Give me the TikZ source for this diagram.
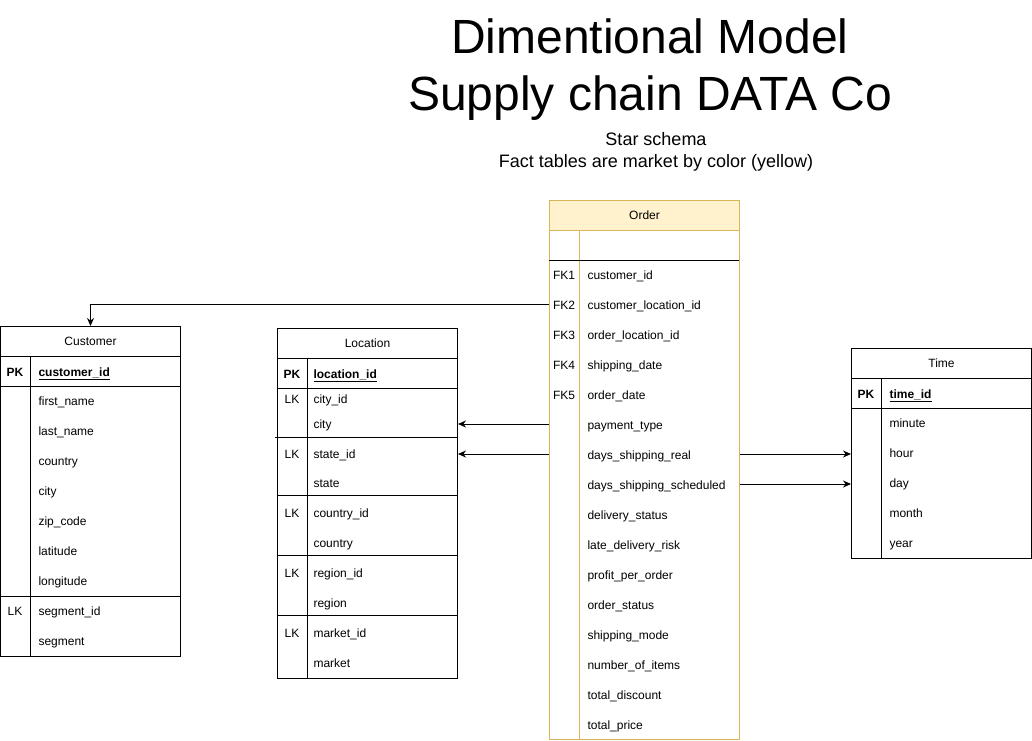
\documentclass[tikz,border=0pt]{standalone}
\usepackage{fontspec}
\setmainfont{Liberation Sans}
\usetikzlibrary{arrows.meta}
\definecolor{ordfill}{HTML}{FFF2CC}
\definecolor{ordline}{HTML}{D6B656}
\newcommand{\fldsize}{\fontsize{12}{14}\selectfont}
\begin{document}
\begin{tikzpicture}
	[x=1pt, y=-1pt, line width=1pt,
	tbl/.style={draw, anchor=north west, inner sep=0pt, minimum width=180pt},
	hdr/.style={draw, anchor=north, inner sep=0pt, minimum width=180pt, minimum height=30pt, text height=10pt, text depth=2pt, font=\fldsize},
	fld/.style={anchor=west, inner sep=0pt, text height=11pt, text depth=1pt, font=\fldsize},
	key/.style={inner sep=0pt, text height=11pt, text depth=1pt, font=\fldsize},
	link/.style={-{Stealth[length=8pt, width=7pt]}}]
	\useasboundingbox (0,0) rectangle (1032,740);
	% title
	\node[anchor=base, font=\fontsize{48}{54}\selectfont] (title1) at (650,53) {Dimentional Model};
	\node[anchor=base, font=\fontsize{48}{54}\selectfont] (title2) at (650,110) {Supply chain DATA Co};
	\node[anchor=base, font=\fontsize{18}{20}\selectfont] (sub1) at (656,145) {Star schema};
	\node[anchor=base, font=\fontsize{18}{20}\selectfont] (sub2) at (656,167) {Fact tables are market by color (yellow)};
	% Order (fact table)
	\node[tbl, draw=ordline, minimum width=190pt, minimum height=539pt] (ord) at (549,200) {};
	\node[hdr, draw=ordline, fill=ordfill, minimum width=190pt] (ordh) at (ord.north) {Order};
	\draw[ordline] (579,230) -- (579,739);
	\draw (549,260) -- (739,260);
	\foreach \i in {1,...,5}
		\node[key] (ordk\i) at (564,{244+30*\i}) {FK\i};
	\foreach \t [count=\i] in {customer\_id, customer\_location\_id, order\_location\_id, shipping\_date, order\_date, payment\_type, days\_shipping\_real, days\_shipping\_scheduled, delivery\_status, late\_delivery\_risk, profit\_per\_order, order\_status, shipping\_mode, number\_of\_items, total\_discount, total\_price}
		\node[fld] (ord\i) at (587,{244+30*\i}) {\t};
	% Customer
	\node[tbl, minimum height=330pt] (cust) at (0,326) {};
	\node[hdr] (custh) at (cust.north) {Customer};
	\draw (0,386) -- (180,386) (0,596) -- (180,596) (30,356) -- (30,656);
	\node[key] (custpk) at (15,371) {\textbf{PK}};
	\node[fld] (custid) at (38,371) {\textbf{\underline{customer\_id}}};
	\node[key] (custlk) at (15,610) {LK};
	\foreach \t [count=\i] in {first\_name, last\_name, country, city, zip\_code, latitude, longitude, segment\_id, segment}
		\node[fld] (cust\i) at (38,{370+30*\i}) {\t};
	% Location
	\node[tbl, minimum height=350pt] (loc) at (277,328) {};
	\node[hdr] (loch) at (loc.north) {Location};
	\draw (277,388) -- (457,388) (275,437) -- (457,437) (277,495) -- (457,495)
		(277,555) -- (457,555) (277,615) -- (457,615) (307,358) -- (307,678);
	\node[key] (locpk) at (292,373) {\textbf{PK}};
	\node[fld] (locid) at (313,373) {\textbf{\underline{location\_id}}};
	\foreach \y [count=\i] in {398,453,512,572,632}
		\node[key] (loclk\i) at (292,\y) {LK};
	\foreach \y/\t [count=\i] in {398/city\_id, 423/city, 453/state\_id, 482/state, 512/country\_id, 542/country, 572/region\_id, 602/region, 632/market\_id, 662/market}
		\node[fld] (loc\i) at (313,\y) {\t};
	% Time
	\node[tbl, minimum height=210pt] (time) at (851,348) {};
	\node[hdr] (timeh) at (time.north) {Time};
	\draw (851,408) -- (1031,408) (881,378) -- (881,558);
	\node[key] (timepk) at (866,393) {\textbf{PK}};
	\node[fld] (timeid) at (889,393) {\textbf{\underline{time\_id}}};
	\foreach \t [count=\i] in {minute, hour, day, month, year}
		\node[fld] (time\i) at (889,{392+30*\i}) {\t};
	% links
	\draw[link] (ord.west |- ord2) -| (cust.north);
	\draw[link] (ord.west |- ord6) -- (loc.east |- ord6);
	\draw[link] (ord.west |- ord7) -- (loc.east |- ord7);
	\draw[link] (ord.east |- ord7) -- (time.west |- ord7);
	\draw[link] (ord.east |- ord8) -- (time.west |- ord8);
\end{tikzpicture}
\end{document}
